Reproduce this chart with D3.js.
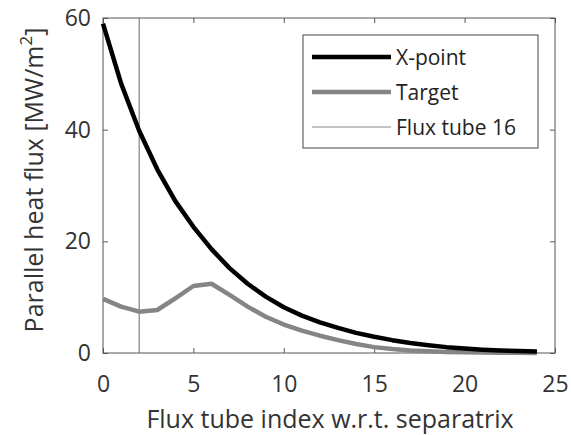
<!DOCTYPE html>
<html><head><meta charset="utf-8">
<script src="https://cdn.jsdelivr.net/npm/d3@7"></script>
<style>body{margin:0;background:#fff;} svg{display:block;}</style>
</head><body>
<svg id="c" width="571" height="435"></svg>
<script>
const fluxTube = d3.range(0, 25);
const xPoint = [59, 48.3, 39.8, 32.9, 27.2, 22.6, 18.6, 15.2, 12.4, 10.1, 8.2, 6.7, 5.5, 4.5, 3.6, 2.9, 2.3, 1.8, 1.4, 1.05, 0.8, 0.6, 0.45, 0.35, 0.25];
const target = [9.7, 8.3, 7.4, 7.7, 9.8, 12.0, 12.4, 10.4, 8.3, 6.5, 5.1, 4.0, 3.1, 2.3, 1.6, 1.05, 0.7, 0.45, 0.3, 0.2, 0.15, 0.1, 0.06, 0.04, 0.02];
const xTicks = [0, 5, 10, 15, 20, 25];
const yTicks = [0, 20, 40, 60];
const markerTube = 2;
const legendLabels = ["X-point", "Target", "Flux tube 16"];

const font = "'Open Sans', sans-serif";
const svg = d3.select("#c");
const L = 103, R = 555, T = 18, B = 353;
const x = d3.scaleLinear().domain([0, 25]).range([L, R]);
const y = d3.scaleLinear().domain([0, 60]).range([B, T]);
const axisCol = "#555";

svg.append("rect").attr("x", L).attr("y", T).attr("width", R - L).attr("height", B - T)
  .attr("fill", "none").attr("stroke", axisCol).attr("stroke-width", 1);

function styleAxis(g) {
  g.select(".domain").remove();
  g.selectAll(".tick line").attr("stroke", axisCol);
  g.selectAll(".tick text").attr("fill", "#333").attr("font-family", font).attr("font-size", 23);
}
svg.append("g").attr("transform", `translate(0,${B})`)
  .call(d3.axisBottom(x).tickValues(xTicks).tickSize(-5).tickPadding(0).tickFormat(d3.format("d")))
  .call(g => g.selectAll(".tick text").attr("y", 39).attr("dy", null))
  .call(styleAxis);
svg.append("g").attr("transform", `translate(0,${T})`)
  .call(d3.axisTop(x).tickValues(xTicks).tickSize(-5).tickFormat(""))
  .call(styleAxis);
svg.append("g").attr("transform", `translate(${L},0)`)
  .call(d3.axisLeft(y).tickValues(yTicks).tickSize(-5).tickPadding(12).tickFormat(d3.format("d")))
  .call(styleAxis);
svg.append("g").attr("transform", `translate(${R},0)`)
  .call(d3.axisRight(y).tickValues(yTicks).tickSize(-5).tickFormat(""))
  .call(styleAxis);

svg.append("line").attr("x1", x(markerTube)).attr("x2", x(markerTube)).attr("y1", T).attr("y2", B)
  .attr("stroke", "#666").attr("stroke-width", 1);

const line = d3.line().x((d, i) => x(fluxTube[i])).y(d => y(d));
svg.append("path").datum(target).attr("d", line).attr("fill", "none")
  .attr("stroke", "#858585").attr("stroke-width", 4.5).attr("stroke-linejoin", "round");
svg.append("path").datum(xPoint).attr("d", line).attr("fill", "none")
  .attr("stroke", "#000").attr("stroke-width", 4.5).attr("stroke-linejoin", "round");

const lg = svg.append("g");
lg.append("rect").attr("x", 303).attr("y", 35).attr("width", 235).attr("height", 113)
  .attr("fill", "#fff").attr("stroke", "#444").attr("stroke-width", 1);
const lstyles = [{c: "#000", w: 4.5}, {c: "#858585", w: 4.5}, {c: "#888", w: 1}];
legendLabels.forEach((t, i) => {
  const yy = 57 + i * 35;
  lg.append("line").attr("x1", 312).attr("x2", 391).attr("y1", yy).attr("y2", yy)
    .attr("stroke", lstyles[i].c).attr("stroke-width", lstyles[i].w);
  lg.append("text").attr("x", 396).attr("y", yy + 7.5).text(t)
    .attr("font-family", font).attr("font-size", 21).attr("fill", "#222");
});

svg.append("text").attr("x", 330).attr("y", 428).attr("text-anchor", "middle")
  .attr("font-family", font).attr("font-size", 25).attr("fill", "#333")
  .text("Flux tube index w.r.t. separatrix");
const yl = svg.append("text").attr("transform", `translate(43,180) rotate(-90)`)
  .attr("text-anchor", "middle").attr("font-family", font).attr("font-size", 25).attr("fill", "#333");
yl.append("tspan").text("Parallel heat flux [MW/m");
yl.append("tspan").attr("baseline-shift", "super").attr("font-size", 17).text("2");
yl.append("tspan").text("]");
</script>
</body></html>
